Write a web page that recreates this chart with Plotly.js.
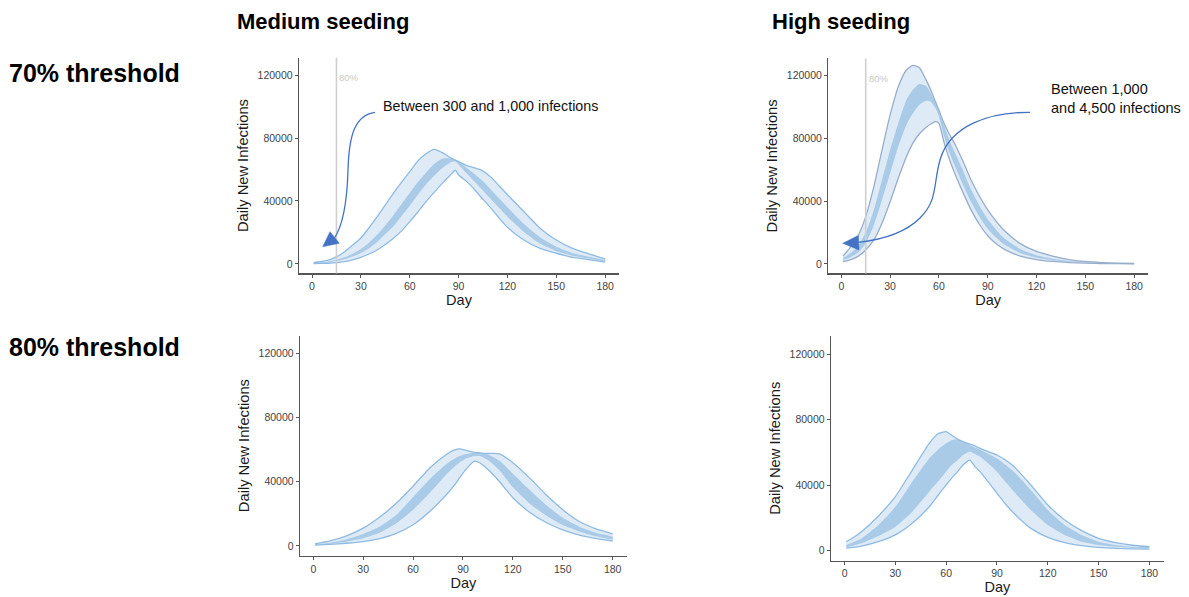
<!DOCTYPE html>
<html>
<head>
<meta charset="utf-8">
<script src="https://cdn.plot.ly/plotly-3.0.1.min.js"></script>
<style>html,body{margin:0;padding:0;background:#fff;}#chart{width:1189px;height:597px;}</style>
</head>
<body>
<div id="chart"></div>
<script>
// ---------------- DATA ----------------
const xTickVals = [0, 30, 60, 90, 120, 150, 180];
const xTickText = ['0', '30', '60', '90', '120', '150', '180'];
const yTickVals = [0, 40000, 80000, 120000];
const yTickText = ['0', '40000', '80000', '120000'];
const thresholdDay = 15;
const thresholdLabel = '80%';

// Medium seeding, 70% threshold
const med70_day    = [1,5,10,15,20,25,30,35,40,45,50,55,60,65,70,75,80,85,88,90,95,100,105,110,115,120,130,140,150,160,170,180];
const med70_outerHi= [800,1400,2500,4500,7800,12000,16500,23000,30000,37500,45000,52000,58600,65500,70000,72800,70700,67500,66000,65000,62500,61000,59000,55000,49500,44000,33300,22700,15200,9900,6400,3200];
const med70_innerHi= [600,900,1600,2700,4200,6500,9500,13500,18500,24500,31000,38000,45000,52000,58000,63500,66800,67000,66000,65000,61000,57000,52500,47000,41500,36000,25500,17000,11000,7000,4600,2400];
const med70_innerLo= [450,700,1100,1900,3000,4700,7000,10000,14000,19000,24000,30500,37000,44000,50500,56000,61000,64500,65000,63000,57500,52000,46500,41000,35500,30000,20500,13000,8200,5200,3400,1800];
const med70_outerLo= [300,350,450,800,1500,2600,4200,6300,8900,12300,16300,21000,26900,33000,39600,45500,51200,56500,59500,56500,52300,47000,41000,35300,29000,23300,15200,9900,6800,4200,2800,1200];

// High seeding, 70% threshold
const high70_day    = [1,5,10,15,20,25,30,35,40,44,48,52,55,58,60,63,66,70,75,80,85,90,95,100,110,120,130,140,150,160,170,180];
const high70_outerHi= [5000,10000,17400,30200,49300,72600,95000,113000,123600,126600,125000,117500,110900,103000,98000,90000,83500,76000,65000,53000,43000,34500,27500,21500,13000,8000,5000,2800,1600,900,500,300];
const high70_innerHi= [3600,6500,11000,20000,34400,53500,72600,89600,104500,111000,114700,113500,108800,102000,97000,89000,80000,70500,59000,47000,37000,28500,22000,16500,9500,5500,3300,1900,1100,600,350,220];
const high70_innerLo= [2500,4000,7000,13200,24900,40800,57800,74800,88600,96000,101500,104000,103400,99000,94000,82000,72000,62000,50000,39000,30000,22500,17000,12500,7000,4000,2400,1400,800,450,280,180];
const high70_outerLo= [1500,2500,4700,8900,15300,25900,39700,54600,68400,77000,83000,87000,89200,90700,89600,78000,68000,57000,45000,34000,25000,18000,13000,9500,5000,2800,1600,900,500,300,200,120];

// Medium seeding, 80% threshold
const med80_day    = [1,10,20,30,40,50,60,70,80,85,88,92,97,100,105,112,120,130,140,150,160,170,180];
const med80_outerHi= [1250,3100,6300,11100,18000,26700,37200,48600,57000,59800,60500,59500,58300,58000,57600,57400,51800,42400,31900,22600,15200,10600,7500];
const med80_innerHi= [900,2000,4200,7500,12100,19400,30500,41500,51000,54500,56000,57200,58000,58000,57000,53000,45000,35000,25500,17500,12000,8200,5600];
const med80_innerLo= [700,1400,2700,4800,8400,14200,22600,33000,44500,49500,52000,54500,56000,56000,53500,47000,36500,26500,19000,13000,9000,6000,4200];
const med80_outerLo= [600,1000,1700,2700,4600,7900,13200,21500,31900,38000,42500,48000,52800,51800,47600,40000,30000,21000,14600,10000,6700,4600,3100];

// High seeding, 80% threshold
const high80_day    = [1,5,10,20,30,40,50,55,60,63,67,70,74,77,80,90,95,100,110,120,130,140,150,160,170,180];
const high80_outerHi= [5500,7900,11600,21200,33000,49200,65500,71200,72600,70600,68000,66500,65000,64000,62400,58400,55300,51300,40100,27900,18700,12200,7500,4900,3300,2400];
const high80_innerHi= [3500,5200,7500,15700,26800,42100,56300,61500,65500,67300,67900,66500,64500,63000,61800,56300,52500,48200,37000,24800,15700,9600,5500,3500,2400,2000];
const high80_innerLo= [2000,3000,4500,8900,14600,23800,36000,42000,48200,52000,55500,58400,60400,59000,57400,48200,42000,36000,24800,15700,9600,5500,3500,2400,1800,1600];
const high80_outerLo= [1600,2000,2800,5500,9600,16700,26800,33500,40100,44000,48500,52300,55300,51300,48200,35000,28500,22800,13600,8100,4900,3100,2000,1400,1100,1000];

const colTitles = ['Medium seeding', 'High seeding'];
const rowTitles = ['70% threshold', '80% threshold'];
const note1 = 'Between 300 and 1,000 infections';
const note2 = 'Between 1,000<br>and 4,500 infections';

// ---------------- LAYOUT HELPERS ----------------
const W = 1189, H = 597;
const FONT = 'Liberation Sans, Arial, Helvetica, sans-serif';
const px = x => x / W;
const py = y => 1 - y / H;
const pathPx = s => s.replace(/(-?[\d.]+),(-?[\d.]+)/g, (m, a, b) => (px(+a)).toFixed(5) + ',' + (py(+b)).toFixed(5));

const LIGHT = '#deeaf6', DARK = '#a9cbe8';
const SM = 0.6;
const traces = [];
function addPanel(days, oh, ih, il, ol, xa, ya, lineCol) {
  const rev = a => a.slice().reverse();
  traces.push({x: days.concat(rev(days)), y: oh.concat(rev(ol)), xaxis: xa, yaxis: ya, type: 'scatter', mode: 'lines',
    fill: 'toself', fillcolor: LIGHT, line: {width: 0, shape: 'spline', smoothing: SM}, hoverinfo: 'skip', showlegend: false});
  traces.push({x: days.concat(rev(days)), y: ih.concat(rev(il)), xaxis: xa, yaxis: ya, type: 'scatter', mode: 'lines',
    fill: 'toself', fillcolor: DARK, line: {width: 0, shape: 'spline', smoothing: SM}, hoverinfo: 'skip', showlegend: false});
  [oh, ol].forEach(s => traces.push({x: days, y: s, xaxis: xa, yaxis: ya, type: 'scatter', mode: 'lines',
    line: {color: lineCol, width: 1.3, shape: 'spline', smoothing: SM}, hoverinfo: 'skip', showlegend: false}));
}
addPanel(med70_day, med70_outerHi, med70_innerHi, med70_innerLo, med70_outerLo, 'x', 'y', '#8fbbe3');
addPanel(high70_day, high70_outerHi, high70_innerHi, high70_innerLo, high70_outerLo, 'x2', 'y2', '#97aecb');
addPanel(med80_day, med80_outerHi, med80_innerHi, med80_innerLo, med80_outerLo, 'x3', 'y3', '#8fbbe3');
addPanel(high80_day, high80_outerHi, high80_innerHi, high80_innerLo, high80_outerLo, 'x4', 'y4', '#8fbbe3');

function xAxis(l, r, anchor) {
  return {domain: [px(l), px(r)], anchor: anchor, range: [-8, 188.5], tickvals: xTickVals, ticktext: xTickText,
    showline: true, linecolor: '#555', linewidth: 1.3, ticks: 'outside', ticklen: 3, tickcolor: '#555', tickwidth: 1,
    tickfont: {family: FONT, size: 10.5, color: '#444'}, showgrid: false, zeroline: false, fixedrange: true,
    title: {text: 'Day', font: {family: FONT, size: 14.5, color: '#1a1a1a'}, standoff: 3}};
}
function yAxis(b, t, anchor) {
  return {domain: [py(b), py(t)], anchor: anchor, range: [-6000, 131000], tickvals: yTickVals, ticktext: yTickText,
    showline: true, linecolor: '#555', linewidth: 1.3, ticks: 'outside', ticklen: 3, tickcolor: '#555', tickwidth: 1,
    tickfont: {family: FONT, size: 10.5, color: '#444'}, showgrid: false, zeroline: false, fixedrange: true,
    title: {text: 'Daily New Infections', font: {family: FONT, size: 14.7, color: '#1a1a1a'}, standoff: 5}};
}

const ARROW = '#4472C4';
const shapes = [
  {type: 'line', xref: 'x', yref: 'y domain', x0: thresholdDay, x1: thresholdDay, y0: 0, y1: 1, line: {color: '#cfcfcf', width: 1.6}, layer: 'above'},
  {type: 'line', xref: 'x2', yref: 'y2 domain', x0: thresholdDay, x1: thresholdDay, y0: 0, y1: 1, line: {color: '#cfcfcf', width: 1.6}, layer: 'above'},
  {type: 'path', xref: 'paper', yref: 'paper', layer: 'above', line: {color: ARROW, width: 1.3},
    path: pathPx('M375,112.3 C355,115 349,135 348,170 C347,205 343,225 334.5,238')},
  {type: 'path', xref: 'paper', yref: 'paper', layer: 'above', line: {color: ARROW, width: 0.5}, fillcolor: ARROW,
    path: pathPx('M322.7,246.7 L330,231.7 L339.3,243.3 Z')},
  {type: 'path', xref: 'paper', yref: 'paper', layer: 'above', line: {color: ARROW, width: 1.3},
    path: pathPx('M1030,112.3 C990,112 950,125 940,160 C933,185 938,200 920,218 C905,233 880,240 858,242.4')},
  {type: 'path', xref: 'paper', yref: 'paper', layer: 'above', line: {color: ARROW, width: 0.5}, fillcolor: ARROW,
    path: pathPx('M842.7,243.3 L858.3,235.5 L859,250 Z')}
];

const ann = [
  {xref: 'paper', yref: 'paper', x: px(323), y: py(22), text: '<b>' + colTitles[0] + '</b>', showarrow: false, xanchor: 'center', yanchor: 'middle', font: {family: FONT, size: 22, color: '#000'}},
  {xref: 'paper', yref: 'paper', x: px(841), y: py(22), text: '<b>' + colTitles[1] + '</b>', showarrow: false, xanchor: 'center', yanchor: 'middle', font: {family: FONT, size: 22, color: '#000'}},
  {xref: 'paper', yref: 'paper', x: px(7), y: py(72.5), text: '<b>' + rowTitles[0] + '</b>', showarrow: false, xanchor: 'left', yanchor: 'middle', font: {family: FONT, size: 25, color: '#000'}},
  {xref: 'paper', yref: 'paper', x: px(7), y: py(347.5), text: '<b>' + rowTitles[1] + '</b>', showarrow: false, xanchor: 'left', yanchor: 'middle', font: {family: FONT, size: 25, color: '#000'}},
  {xref: 'x', yref: 'y', x: thresholdDay, y: 118500, text: thresholdLabel, showarrow: false, xanchor: 'left', yanchor: 'middle', xshift: 1, font: {family: FONT, size: 9.5, color: '#c8c8c8'}},
  {xref: 'x2', yref: 'y2', x: thresholdDay, y: 118500, text: thresholdLabel, showarrow: false, xanchor: 'left', yanchor: 'middle', xshift: 1, font: {family: FONT, size: 9.5, color: '#c8c8c8'}},
  {xref: 'paper', yref: 'paper', x: px(381), y: py(105.7), text: note1, showarrow: false, xanchor: 'left', yanchor: 'middle', font: {family: FONT, size: 14.3, color: '#111'}},
  {xref: 'paper', yref: 'paper', x: px(1049), y: py(98), text: note2, showarrow: false, xanchor: 'left', yanchor: 'middle', align: 'left', font: {family: FONT, size: 14.5, color: '#111'}}
];

const layout = {
  width: W, height: H, margin: {l: 0, r: 0, t: 0, b: 0}, paper_bgcolor: '#fff', plot_bgcolor: 'rgba(0,0,0,0)',
  showlegend: false, font: {family: FONT},
  xaxis:  xAxis(299, 619, 'y'),
  yaxis:  yAxis(273.4, 57.7, 'x'),
  xaxis2: xAxis(828.3, 1148, 'y2'),
  yaxis2: yAxis(273.4, 58.4, 'x2'),
  xaxis3: xAxis(300, 626.8, 'y3'),
  yaxis3: yAxis(555.6, 335.6, 'x3'),
  xaxis4: xAxis(831, 1163.8, 'y4'),
  yaxis4: yAxis(560.5, 336, 'x4'),
  shapes: shapes, annotations: ann
};
Plotly.newPlot('chart', traces, layout, {staticPlot: true, displayModeBar: false});
</script>
</body>
</html>
